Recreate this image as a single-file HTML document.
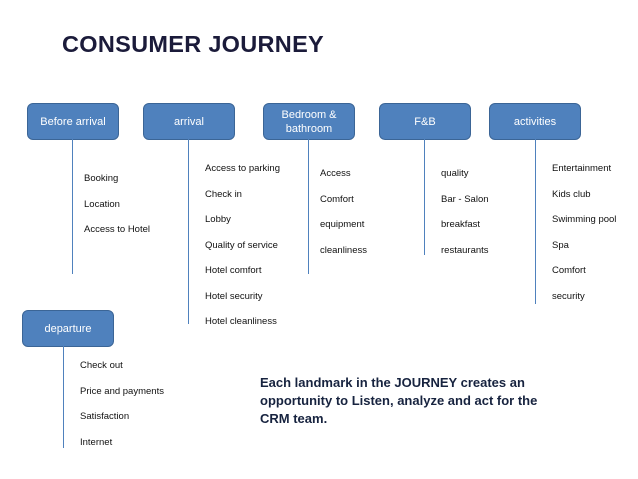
<!DOCTYPE html>
<html><head><meta charset="utf-8"><style>
body{margin:0;width:638px;height:479px;background:#fff;position:relative;overflow:hidden;font-family:"Liberation Sans",sans-serif}
.b{position:absolute;width:90px;height:35px;background:#4f81bd;border:1px solid #3b6596;border-radius:6px;color:#fff;font-size:11px;display:flex;align-items:center;justify-content:center;text-align:center;line-height:14px}
.l{position:absolute;width:1px;background:#4f81bd}
.t{position:absolute;font-size:9.5px;color:#111;white-space:nowrap}
</style></head><body>
<div style="position:absolute;left:62px;top:31px;font-size:23.5px;letter-spacing:0.3px;font-weight:bold;color:#1b1b3a">CONSUMER JOURNEY</div>
<div class="b" style="left:27px;top:103px">Before arrival</div>
<div class="b" style="left:143px;top:103px">arrival</div>
<div class="b" style="left:263px;top:103px">Bedroom &amp;<br>bathroom</div>
<div class="b" style="left:379px;top:103px">F&amp;B</div>
<div class="b" style="left:489px;top:103px">activities</div>
<div class="b" style="left:22px;top:310px">departure</div>
<div class="l" style="left:72px;top:139px;height:135px"></div>
<div class="l" style="left:188px;top:139px;height:185px"></div>
<div class="l" style="left:308px;top:139px;height:135px"></div>
<div class="l" style="left:424px;top:139px;height:116px"></div>
<div class="l" style="left:535px;top:139px;height:165px"></div>
<div class="l" style="left:63px;top:346px;height:102px"></div>
<div class="t" style="left:84px;top:173px">Booking</div>
<div class="t" style="left:84px;top:199px">Location</div>
<div class="t" style="left:84px;top:224px">Access to Hotel</div>
<div class="t" style="left:205px;top:163px">Access to parking</div>
<div class="t" style="left:205px;top:189px">Check in</div>
<div class="t" style="left:205px;top:214px">Lobby</div>
<div class="t" style="left:205px;top:240px">Quality of service</div>
<div class="t" style="left:205px;top:265px">Hotel comfort</div>
<div class="t" style="left:205px;top:291px">Hotel security</div>
<div class="t" style="left:205px;top:316px">Hotel cleanliness</div>
<div class="t" style="left:320px;top:168px">Access</div>
<div class="t" style="left:320px;top:194px">Comfort</div>
<div class="t" style="left:320px;top:219px">equipment</div>
<div class="t" style="left:320px;top:245px">cleanliness</div>
<div class="t" style="left:441px;top:168px">quality</div>
<div class="t" style="left:441px;top:194px">Bar - Salon</div>
<div class="t" style="left:441px;top:219px">breakfast</div>
<div class="t" style="left:441px;top:245px">restaurants</div>
<div class="t" style="left:552px;top:163px">Entertainment</div>
<div class="t" style="left:552px;top:189px">Kids club</div>
<div class="t" style="left:552px;top:214px">Swimming pool</div>
<div class="t" style="left:552px;top:240px">Spa</div>
<div class="t" style="left:552px;top:265px">Comfort</div>
<div class="t" style="left:552px;top:291px">security</div>
<div class="t" style="left:80px;top:360px">Check out</div>
<div class="t" style="left:80px;top:386px">Price and payments</div>
<div class="t" style="left:80px;top:411px">Satisfaction</div>
<div class="t" style="left:80px;top:437px">Internet</div>
<div style="position:absolute;left:260px;top:374px;font-size:13px;font-weight:bold;color:#17233f;line-height:18px;width:290px">Each landmark in the JOURNEY creates an opportunity to Listen, analyze and act for the CRM team.</div>
</body></html>
